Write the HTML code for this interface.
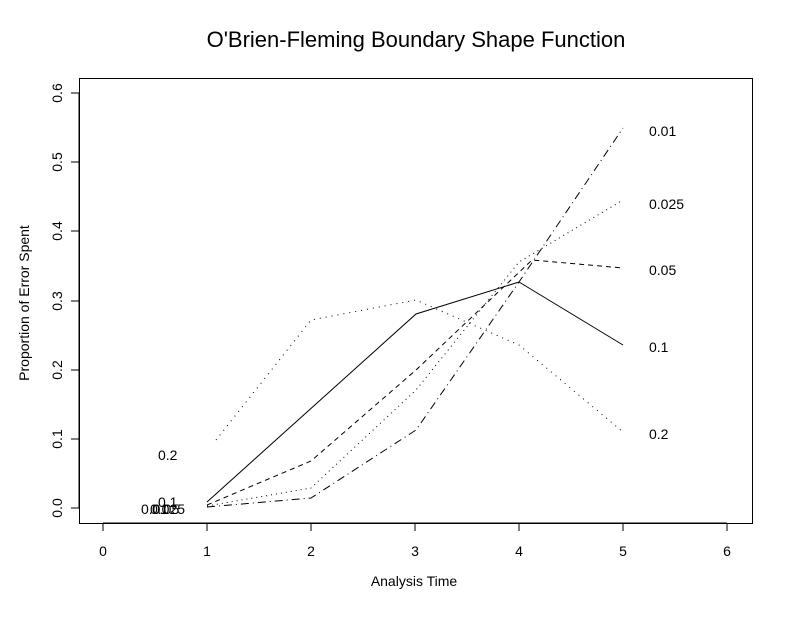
<!DOCTYPE html>
<html><head><style>
body{margin:0;background:#fff}
svg{display:block}
text{font-family:"Liberation Sans",sans-serif;fill:#000}
</style></head><body>
<svg width="798" height="618" viewBox="0 0 798 618" xmlns="http://www.w3.org/2000/svg">
<rect width="798" height="618" fill="#fff"/>
<text x="416" y="47" font-size="22" text-anchor="middle">O'Brien-Fleming Boundary Shape Function</text>
<rect x="79.5" y="78.5" width="673" height="445" fill="none" stroke="#000"/>
<g stroke="#000">
<line x1="103" y1="523" x2="727" y2="523"/>
<line x1="103" y1="523" x2="103" y2="531"/><line x1="207" y1="523" x2="207" y2="531"/><line x1="311" y1="523" x2="311" y2="531"/><line x1="415" y1="523" x2="415" y2="531"/><line x1="519" y1="523" x2="519" y2="531"/><line x1="623" y1="523" x2="623" y2="531"/><line x1="727" y1="523" x2="727" y2="531"/>
<line x1="79" y1="93" x2="79" y2="508"/>
<line x1="71" y1="508" x2="79" y2="508"/><line x1="71" y1="439" x2="79" y2="439"/><line x1="71" y1="370" x2="79" y2="370"/><line x1="71" y1="301" x2="79" y2="301"/><line x1="71" y1="231" x2="79" y2="231"/><line x1="71" y1="162" x2="79" y2="162"/><line x1="71" y1="93" x2="79" y2="93"/>
</g>
<g font-size="14" text-anchor="middle">
<text x="103" y="556">0</text><text x="207" y="556">1</text><text x="311" y="556">2</text><text x="415" y="556">3</text><text x="519" y="556">4</text><text x="623" y="556">5</text><text x="727" y="556">6</text>
<text transform="translate(62,508) rotate(-90)">0.0</text>
<text transform="translate(62,439) rotate(-90)">0.1</text>
<text transform="translate(62,370) rotate(-90)">0.2</text>
<text transform="translate(62,301) rotate(-90)">0.3</text>
<text transform="translate(62,231) rotate(-90)">0.4</text>
<text transform="translate(62,162) rotate(-90)">0.5</text>
<text transform="translate(62,93) rotate(-90)">0.6</text>
</g>
<text x="414" y="586" font-size="14" text-anchor="middle">Analysis Time</text>
<text transform="translate(29,303) rotate(-90)" font-size="14" text-anchor="middle">Proportion of Error Spent</text>
<g fill="none" stroke="#000" stroke-width="1">
<polyline points="207,502 416,314 519,282 623,345"/>
<polyline stroke-dasharray="5,4" points="207,505 311,461 416,370 532,260 623,268"/>
<polyline stroke-dasharray="1,5" points="216,440 311,320 416,300 519,345 623,432"/>
<polyline stroke-dasharray="1,4" points="207,506 311,488 416,390 519,262 623,200"/>
<polyline stroke-dasharray="8,4,1,4" points="207,507 311,498 416,430 519,282 623,128"/>
</g>
<g font-size="14">
<text x="649" y="136">0.01</text>
<text x="649" y="209">0.025</text>
<text x="649" y="275">0.05</text>
<text x="649" y="352">0.1</text>
<text x="649" y="439">0.2</text>
<text x="158" y="460">0.2</text>
<text x="158" y="507">0.1</text>
<text x="141" y="514">0.01</text>
<text x="150" y="514">0.025</text>
<text x="152" y="514">0.05</text>
</g>
</svg>
</body></html>
